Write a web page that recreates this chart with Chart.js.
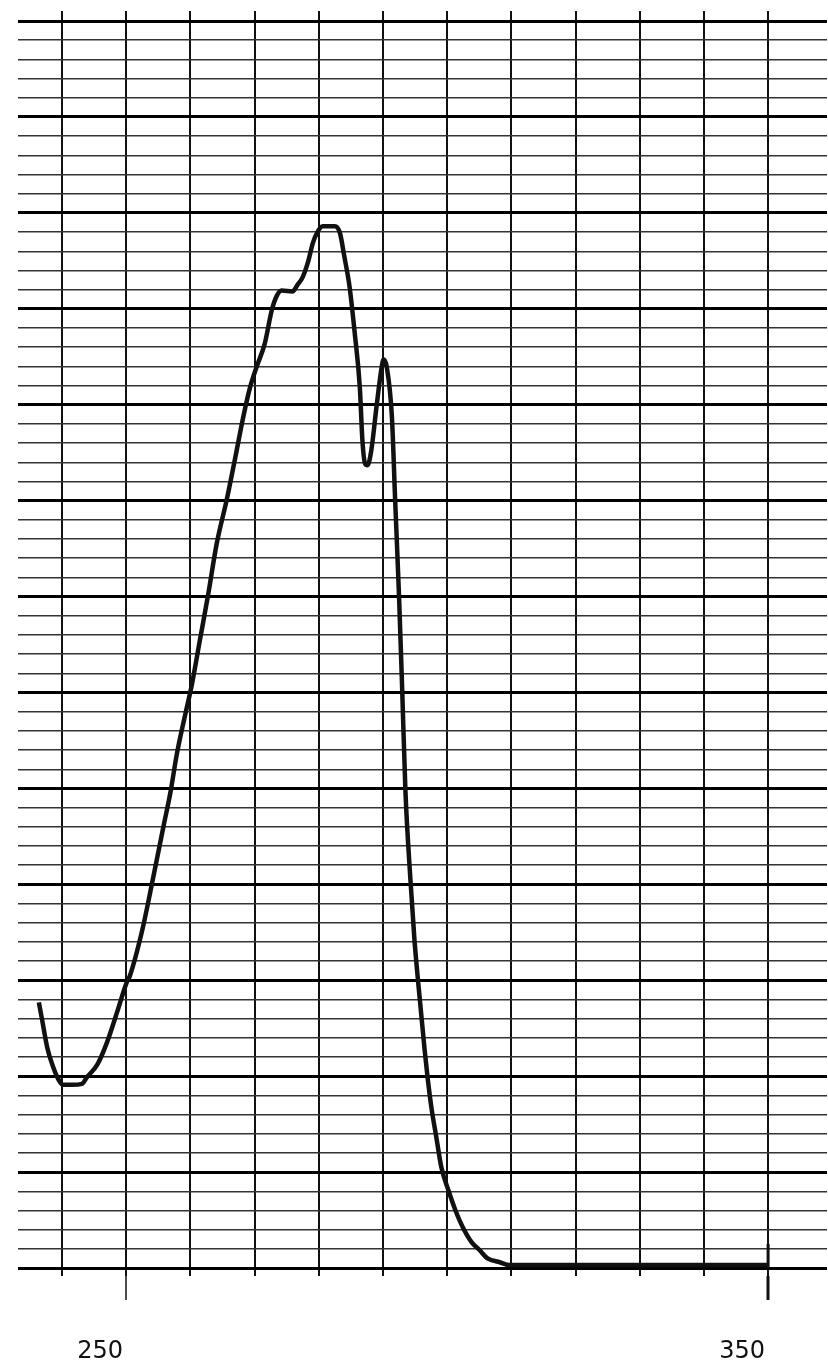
<!DOCTYPE html>
<html>
<head>
<meta charset="utf-8">
<script src="https://cdn.jsdelivr.net/npm/chart.js@4"></script>
<style>
  html, body { margin: 0; padding: 0; background: #fff; }
  #wrap { width: 828px; height: 1371px; }
</style>
</head>
<body>
<div id="wrap"><canvas id="chart"></canvas></div>
<script>
// recorder trace, wavelength (nm) vs absorbance
const wavelength = [
  236.4, 236.9, 237.7, 238.6, 239.5, 240.2, 241.6, 243.1, 243.9, 245.5,
  247.0, 248.6, 250.1, 250.6, 252.5, 254.0, 255.8, 256.9, 257.9, 259.3,
  260.2, 261.5, 262.8, 264.1, 265.7, 267.0, 268.3, 269.3, 270.3, 271.6,
  272.7, 273.5, 274.2, 275.9, 276.7, 277.5, 278.3, 279.1, 279.8, 280.6,
  282.5, 283.3, 284.0, 284.8, 285.6, 286.4, 286.8, 287.2, 287.6, 288.2,
  289.0, 289.8, 290.1, 290.6, 291.4, 291.9, 292.5, 293.0, 293.5, 294.3,
  294.9, 295.6, 296.5, 297.0, 297.6, 298.3, 299.1, 300.2, 301.3, 302.4,
  303.8, 305.0, 306.3, 308.2, 309.7, 320.0, 330.0, 340.0, 350.0
];
const absorbance = [
  0.277, 0.259, 0.230, 0.210, 0.196, 0.191, 0.191, 0.192, 0.199, 0.212,
  0.235, 0.267, 0.298, 0.305, 0.352, 0.400, 0.460, 0.496, 0.536, 0.580,
  0.607, 0.655, 0.703, 0.755, 0.802, 0.845, 0.889, 0.918, 0.939, 0.964,
  0.999, 1.014, 1.019, 1.018, 1.025, 1.033, 1.048, 1.069, 1.080, 1.086,
  1.086, 1.079, 1.054, 1.023, 0.975, 0.918, 0.863, 0.839, 0.837, 0.853,
  0.898, 0.939, 0.947, 0.939, 0.887, 0.801, 0.702, 0.603, 0.498, 0.403,
  0.343, 0.290, 0.227, 0.196, 0.165, 0.137, 0.105, 0.081, 0.060, 0.043,
  0.027, 0.019, 0.010, 0.006, 0.003, 0.003, 0.003, 0.003, 0.003
];
const xTickLabels = [250, 350];
const endMarkX = [350, 350];
const endMarkY = [0.025, 0];

const INK = '#111';

new Chart(document.getElementById('chart'), {
  type: 'line',
  data: {
    datasets: [
      {
        data: wavelength.map((x, i) => ({ x, y: absorbance[i] })),
        borderColor: INK,
        borderWidth: 4.5,
        pointRadius: 0,
        cubicInterpolationMode: 'monotone',
        fill: false,
        clip: false,
      },
      {
        data: endMarkX.map((x, i) => ({ x, y: endMarkY[i] })),
        borderColor: INK,
        borderWidth: 3,
        pointRadius: 0,
        clip: false,
      },
    ],
  },
  options: {
    responsive: true,
    maintainAspectRatio: false,
    animation: false,
    events: [],
    layout: { padding: { left: 18, right: 0, top: 11, bottom: 0 } },
    plugins: { legend: { display: false }, tooltip: { enabled: false } },
    scales: {
      x: {
        type: 'linear',
        min: 233.15,
        max: 359.18,
        afterFit: scale => { scale.height = 95; },
        border: { display: false },
        grid: {
          color: INK,
          lineWidth: 2,
          drawTicks: true,
          tickLength: 24,
          tickColor: ctx => xTickLabels.includes(ctx.tick.value) ? INK : 'rgba(0,0,0,0)',
          tickWidth: ctx => ctx.tick.value === 350 ? 3 : 1.5,
        },
        ticks: {
          stepSize: 10,
          includeBounds: false,
          autoSkip: false,
          maxRotation: 0,
          padding: 37,
          labelOffset: -26,
          color: INK,
          font: { family: 'DejaVu Sans', size: 24 },
          callback: v => xTickLabels.includes(v) ? String(v) : '',
        },
      },
      y: {
        type: 'linear',
        min: -0.00834,
        max: 1.31043,
        border: { display: false },
        grid: {
          drawTicks: false,
          color: ctx => Math.round(ctx.tick.value * 50) % 5 === 0 ? '#000' : '#333',
          lineWidth: ctx => Math.round(ctx.tick.value * 50) % 5 === 0 ? 3 : 1.4,
        },
        ticks: {
          display: false,
          stepSize: 0.02,
          maxTicksLimit: 1000,
          includeBounds: false,
        },
      },
    },
  },
});
</script>
</body>
</html>
